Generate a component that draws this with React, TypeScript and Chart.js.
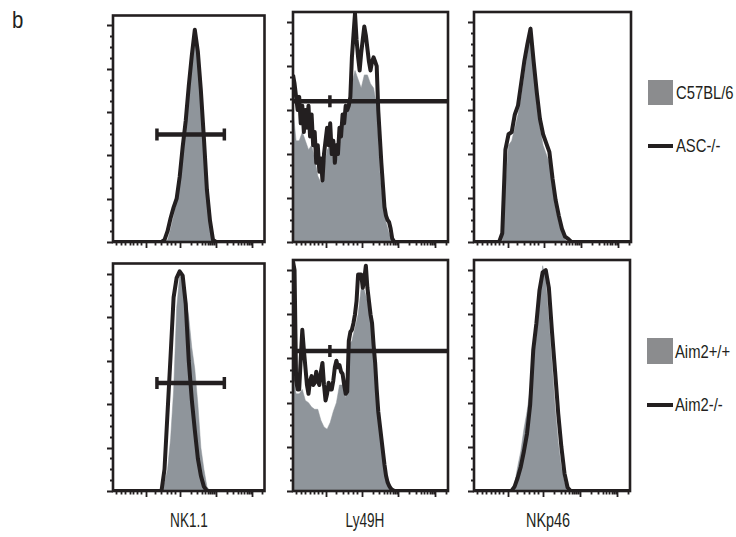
import React, { useEffect, useRef } from "react";
import { Chart, registerables } from "chart.js";

Chart.register(...registerables);

// ---------- data ----------
const binX = [0,2,4,6,8,10,12,14,16,18,20,22,24,26,28,30,32,34,36,38,40,42,44,46,48,50,52,54,56,58,60,62,64,66,68,70,72,74,76,78,80,82,84,86,88,90,92,94,96,98,100];
const fineX = [0,1,2,3,4,5,6,7,8,9,10,11,12,13,14,15,16,17,18,19,20,21,22,23,24,25,26,27,28,29,30,31,32,33,34,35,36,37,38,39,40,41,42,43,44,45,46,47,48,49,50,51,52,53,54,55,56,57,58,59,60,61,62,63,64,65,66,100];

// NK1.1, top row (C57BL/6 filled, ASC-/- line)
const nk11TopWT = [0,0,0,0,0,0,0,0,0,0,0,0,0,0,0,0,0,0,0.05,0.3,0.6,0.95,1.6,2.1,2.9,3.8,4.5,4.9,4.5,3.6,2.3,1.1,0.4,0,0,0,0,0,0,0,0,0,0,0,0,0,0,0,0,0,0];
const nk11TopKO = [0,0,0,0,0,0,0,0,0,0,0,0,0,0,0,0,0,0.05,0.25,0.55,0.8,1.0,1.5,2.2,2.8,3.6,4.3,4.9,4.4,3.5,2.4,1.2,0.5,0.05,0,0,0,0,0,0,0,0,0,0,0,0,0,0,0,0,0];
// Ly49H, top row
const ly49hTopWT = [3.0,2.3,2.3,2.5,2.3,2.1,2.2,1.9,1.5,1.35,1.7,2.1,2.2,1.8,1.8,2.2,2.6,2.9,3.0,3.6,3.9,3.7,3.5,3.8,3.8,3.6,3.5,3.1,1.6,0.9,0.45,0.2,0.05,0,0,0,0,0,0,0,0,0,0,0,0,0,0,0,0,0,0];
const ly49hTopKO = [3.8,3.6,3.3,3.0,3.3,2.7,3.1,2.5,3.0,2.6,3.1,2.4,2.9,2.2,2.5,1.8,2.2,1.6,1.9,1.4,2.0,2.3,2.6,2.2,2.7,2.0,2.3,1.8,2.2,2.0,2.6,2.4,2.9,2.7,3.1,3.0,3.1,3.3,4.2,4.7,5.2,4.6,4.2,3.9,4.3,4.6,4.9,4.7,4.4,4.1,3.9,4.1,4.2,4.1,4.0,3.0,2.4,1.8,1.3,0.8,0.6,0.5,0.45,0.3,0.08,0.02,0,0];
// NKp46, top row
const nkp46TopWT = [0,0,0,0,0,0,0,0,0,0,1.3,2.2,2.3,2.6,2.9,3.3,3.8,4.3,4.9,3.9,3.1,2.6,2.2,2.0,1.8,1.2,0.75,0.45,0.2,0.05,0,0,0,0,0,0,0,0,0,0,0,0,0,0,0,0,0,0,0,0,0];
const nkp46TopKO = [0,0,0,0,0,0,0,0,0,0.2,2.1,2.45,2.5,2.9,3.1,3.6,4.1,4.5,4.85,4.1,3.4,2.8,2.45,2.25,2.05,1.45,0.95,0.6,0.3,0.12,0.07,0,0,0,0,0,0,0,0,0,0,0,0,0,0,0,0,0,0,0,0];
// NK1.1, bottom row (Aim2+/+ filled, Aim2-/- line)
const nk11BotWT = [0,0,0,0,0,0,0,0,0,0,0,0,0,0,0,0,0.05,0.2,0.5,1.2,2.3,4.2,4.95,4.9,4.5,4.0,3.3,2.8,2.0,1.0,0.5,0.1,0,0,0,0,0,0,0,0,0,0,0,0,0,0,0,0,0,0,0];
const nk11BotKO = [0,0,0,0,0,0,0,0,0,0,0,0,0,0,0,0,0,0.5,1.8,3.1,4.45,4.9,5.05,4.95,4.3,3.0,2.1,1.4,0.75,0.35,0.1,0,0,0,0,0,0,0,0,0,0,0,0,0,0,0,0,0,0,0,0];
// Ly49H, bottom row
const ly49hBotWT = [2.6,2.2,2.2,2.3,2.05,2.0,1.9,1.85,1.85,1.6,1.45,1.4,1.55,1.8,2.0,2.4,2.4,2.1,3.3,3.4,3.7,4.0,4.6,4.55,4.3,3.95,3.2,2.2,1.4,0.8,0.3,0.08,0,0,0,0,0,0,0,0,0,0,0,0,0,0,0,0,0,0,0];
const ly49hBotKO = [5.2,5.0,2.5,2.3,2.3,3.0,3.65,3.2,2.8,2.4,2.2,2.5,2.6,2.4,2.45,2.7,2.5,2.4,2.7,2.9,2.4,2.05,2.2,2.45,2.3,2.3,2.5,2.8,2.95,2.8,2.85,2.7,2.65,2.4,2.2,2.25,3.4,3.6,3.65,3.8,4.0,4.3,4.9,4.9,4.9,4.6,4.8,5.1,4.6,4.3,4.0,3.8,3.3,2.9,2.3,1.8,1.5,1.2,0.9,0.6,0.35,0.2,0.12,0.06,0.03,0.01,0,0];
// NKp46, bottom row
const nkp46BotWT = [0,0,0,0,0,0,0,0,0,0,0,0,0,0.15,0.55,0.9,1.4,1.8,2.3,2.9,3.5,4.2,5.1,4.8,3.9,2.9,1.9,1.1,0.55,0.2,0.05,0,0,0,0,0,0,0,0,0,0,0,0,0,0,0,0,0,0,0,0];
const nkp46BotKO = [0,0,0,0,0,0,0,0,0,0,0,0,0,0.1,0.3,0.55,0.9,1.3,1.95,3.2,3.8,4.55,4.95,5.0,4.6,3.6,2.7,1.75,1.0,0.4,0.08,0,0,0,0,0,0,0,0,0,0,0,0,0,0,0,0,0,0,0,0];

// gates
const nk11GateX = [29, 73.5];
const nk11GateY = [2.48, 2.48];
const ly49hGateX = [0, 23.8, 100];
const ly49hGateYTop = 3.2;
const ly49hGateYBot = 3.17;

// axis ticks
const yMajorTicks = [0, 1, 2, 3, 4, 5];
const yMinorTicks = [0.25,0.5,0.75,1.25,1.5,1.75,2.25,2.5,2.75,3.25,3.5,3.75,4.25,4.5,4.75,5.25];
const xMajorTicks = [21.5, 44.5, 68, 91.5];
const xMinorTicks = [2,5,8,11,13.5,16,18.5,27.5,32,35.5,38.5,41,51.5,55.5,58.5,60.8,62.7,64.2,65.6,66.8,75,79.5,82.5,84.8,86.7,88.2,89.6,90.8,98.5];

const xLabels = ["NK1.1", "Ly49H", "NKp46"];
const legendTop = ["C57BL/6", "ASC-/-"];
const legendBottom = ["Aim2+/+", "Aim2-/-"];

const Y_MAX = 5.23;
const GRAY = "#8f959b";
const BLACK = "#231f20";
const PAD = { l: 10, r: 6, t: 6, b: 10 };
const FONT = '"Liberation Sans", Arial, sans-serif';

type Gate = { xs: number[]; ys: number[]; radii: number[] };
type Panel = {
  left: number; top: number; w: number; h: number;
  wt: number[]; ko: number[]; koX: number[]; gate: Gate;
};

const nkGate: Gate = { xs: nk11GateX, ys: nk11GateY, radii: [6, 6] };
const lyGateTop: Gate = { xs: ly49hGateX, ys: [ly49hGateYTop, ly49hGateYTop, ly49hGateYTop], radii: [0, 6, 0] };
const lyGateBot: Gate = { xs: ly49hGateX, ys: [ly49hGateYBot, ly49hGateYBot, ly49hGateYBot], radii: [0, 6, 0] };

const panels: Panel[] = [
  { left: 113, top: 12, w: 155, h: 230, wt: nk11TopWT, ko: nk11TopKO, koX: binX, gate: nkGate },
  { left: 293, top: 12, w: 155, h: 230, wt: ly49hTopWT, ko: ly49hTopKO, koX: fineX, gate: lyGateTop },
  { left: 474, top: 12, w: 157, h: 230, wt: nkp46TopWT, ko: nkp46TopKO, koX: binX, gate: { xs: [], ys: [], radii: [] } },
  { left: 113, top: 260, w: 155, h: 231, wt: nk11BotWT, ko: nk11BotKO, koX: binX, gate: nkGate },
  { left: 293, top: 260, w: 155, h: 231, wt: ly49hBotWT, ko: ly49hBotKO, koX: fineX, gate: lyGateBot },
  { left: 474, top: 260, w: 156, h: 231, wt: nkp46BotWT, ko: nkp46BotKO, koX: binX, gate: { xs: [], ys: [], radii: [] } },
];

const framePlugin = {
  id: "frame",
  afterDatasetsDraw(chart: any) {
    const { ctx, chartArea: a, scales } = chart;
    const x = scales.x, y = scales.y;
    ctx.save();
    ctx.strokeStyle = BLACK;
    ctx.lineCap = "butt";
    ctx.lineWidth = 1.8;
    ctx.beginPath();
    for (const v of yMajorTicks) {
      const py = Math.round(y.getPixelForValue(v)) + 0.5;
      ctx.moveTo(a.left, py); ctx.lineTo(a.left - 6, py);
    }
    for (const v of yMinorTicks) {
      if (v > Y_MAX) continue;
      const py = Math.round(y.getPixelForValue(v)) + 0.5;
      ctx.moveTo(a.left, py); ctx.lineTo(a.left - 3, py);
    }
    for (const v of xMajorTicks) {
      const px = Math.round(x.getPixelForValue(v)) + 0.5;
      ctx.moveTo(px, a.bottom); ctx.lineTo(px, a.bottom + 6);
    }
    for (const v of xMinorTicks) {
      const px = Math.round(x.getPixelForValue(v)) + 0.5;
      ctx.moveTo(px, a.bottom); ctx.lineTo(px, a.bottom + 3.5);
    }
    ctx.stroke();
    ctx.lineWidth = 2.6;
    ctx.strokeRect(a.left, a.top, a.right - a.left, a.bottom - a.top);
    ctx.restore();
  },
};

function HistPanel({ p }: { p: Panel }) {
  const ref = useRef<HTMLCanvasElement>(null);
  useEffect(() => {
    const canvas = ref.current!;
    const chart = new Chart(canvas, {
      type: "line",
      data: {
        datasets: [
          {
            label: "gate",
            data: p.gate.xs.map((x, i) => ({ x, y: p.gate.ys[i] })),
            borderColor: BLACK,
            borderWidth: 4.5,
            fill: false,
            pointStyle: "line",
            rotation: 90,
            pointRadius: p.gate.radii,
            pointBorderWidth: 3.5,
            pointBorderColor: BLACK,
            order: 0,
          } as any,
          {
            label: "ko",
            data: p.koX.map((x, i) => ({ x, y: p.ko[i] })),
            borderColor: BLACK,
            borderWidth: 4,
            borderJoinStyle: "round",
            fill: false,
            pointRadius: 0,
            order: 1,
          },
          {
            label: "wt",
            data: binX.map((x, i) => ({ x, y: p.wt[i] })),
            borderColor: GRAY,
            borderWidth: 0.5,
            backgroundColor: GRAY,
            fill: "origin",
            pointRadius: 0,
            order: 2,
          },
        ],
      },
      options: {
        responsive: false,
        animation: false,
        events: [],
        layout: { padding: { left: PAD.l, right: PAD.r, top: PAD.t, bottom: PAD.b } },
        plugins: { legend: { display: false }, tooltip: { enabled: false } },
        elements: { line: { tension: 0 } },
        scales: {
          x: { type: "linear", min: 0, max: 100, display: false },
          y: { type: "linear", min: 0, max: Y_MAX, display: false },
        },
      },
      plugins: [framePlugin],
    });
    return () => chart.destroy();
  }, [p]);
  const cw = p.w + PAD.l + PAD.r;
  const ch = p.h + PAD.t + PAD.b;
  return (
    <canvas
      ref={ref}
      width={cw}
      height={ch}
      style={{ position: "absolute", left: p.left - PAD.l, top: p.top - PAD.t, width: cw, height: ch }}
    />
  );
}

function Txt({ x, y, text, size, align, sx }: { x: number; y: number; text: string; size: number; align: "left" | "center"; sx: number }) {
  return (
    <div
      style={{
        position: "absolute",
        left: x,
        top: y,
        fontFamily: FONT,
        fontSize: size,
        lineHeight: 1,
        color: "#231f20",
        whiteSpace: "nowrap",
        transformOrigin: align === "left" ? "left center" : "center center",
        transform: align === "left" ? `translate(0,-50%) scaleX(${sx})` : `translate(-50%,-50%) scaleX(${sx})`,
      }}
    >
      {text}
    </div>
  );
}

export default function App() {
  return (
    <div style={{ position: "absolute", left: 0, top: 0, width: 736, height: 537, background: "#fff", overflow: "hidden" }}>
      {panels.map((p, i) => (
        <HistPanel key={i} p={p} />
      ))}
      <Txt x={12} y={20} text="b" size={24} align="left" sx={0.85} />
      <Txt x={189} y={519.5} text={xLabels[0]} size={20} align="center" sx={0.68} />
      <Txt x={365} y={519.5} text={xLabels[1]} size={20} align="center" sx={0.68} />
      <Txt x={548} y={519.5} text={xLabels[2]} size={20} align="center" sx={0.72} />
      <div style={{ position: "absolute", left: 648, top: 80, width: 25, height: 25, background: "#8b8c8e" }} />
      <Txt x={676} y={93} text={legendTop[0]} size={18.5} align="left" sx={0.8} />
      <div style={{ position: "absolute", left: 648, top: 144, width: 25, height: 4, background: BLACK }} />
      <Txt x={676} y={146} text={legendTop[1]} size={18.5} align="left" sx={0.8} />
      <div style={{ position: "absolute", left: 647, top: 338, width: 26, height: 26, background: "#8b8c8e" }} />
      <Txt x={675} y={352} text={legendBottom[0]} size={18.5} align="left" sx={0.8} />
      <div style={{ position: "absolute", left: 647, top: 403, width: 26, height: 4, background: BLACK }} />
      <Txt x={675} y={405} text={legendBottom[1]} size={18.5} align="left" sx={0.8} />
    </div>
  );
}
